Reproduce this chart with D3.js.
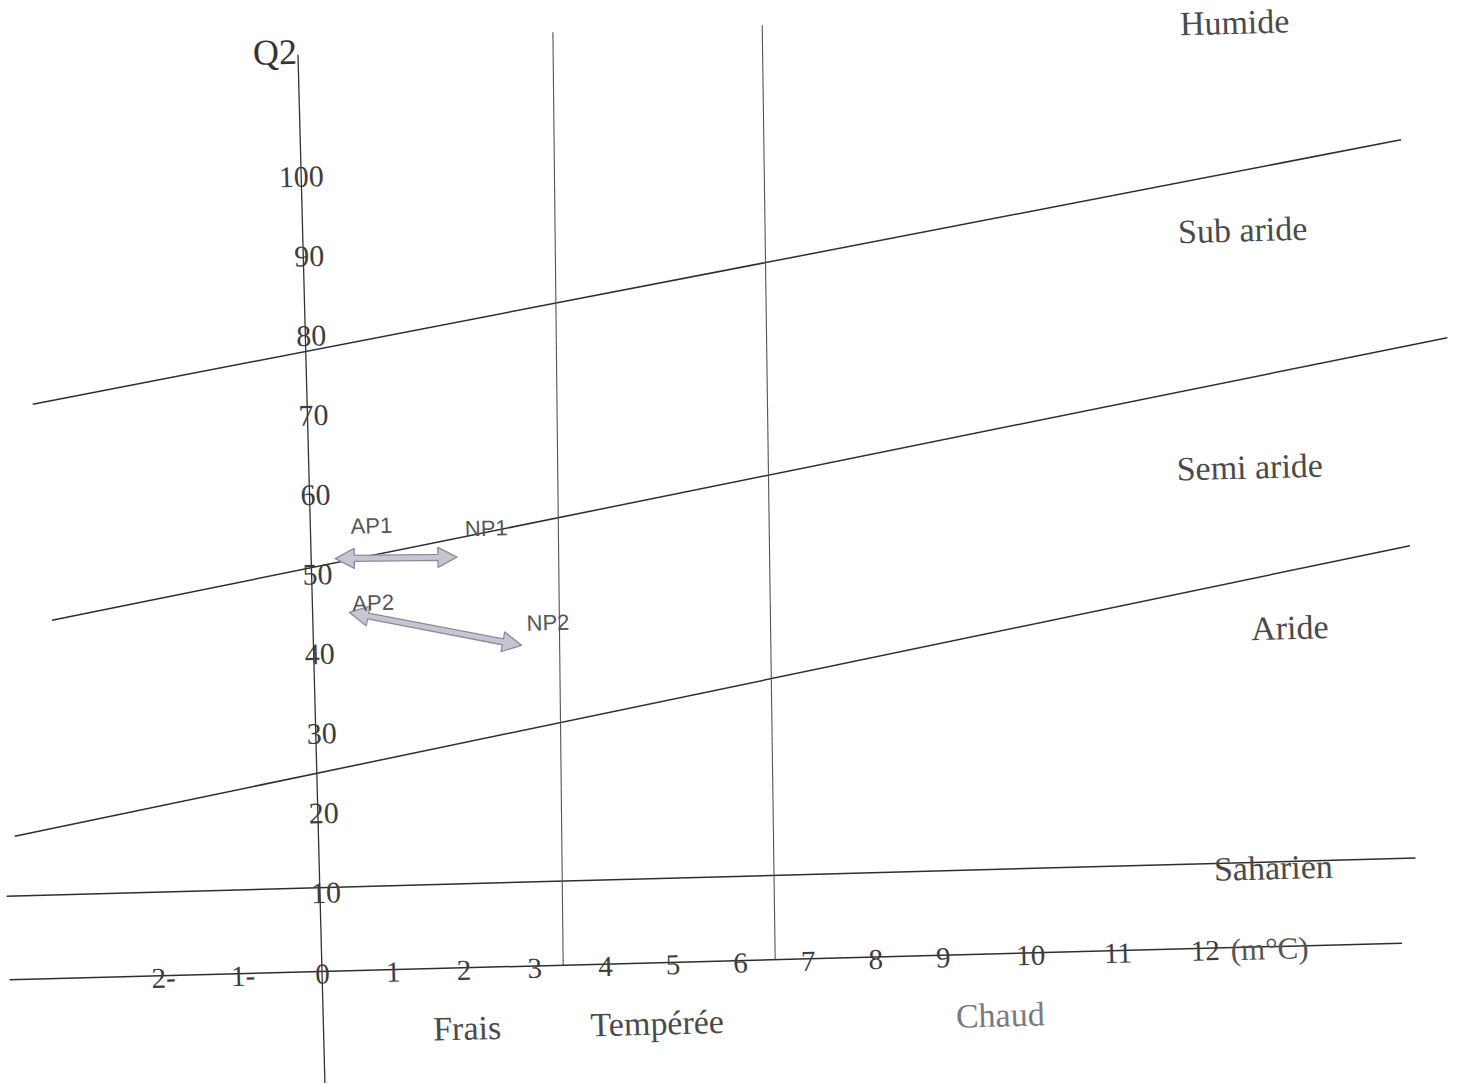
<!DOCTYPE html>
<html>
<head>
<meta charset="utf-8">
<script src="https://cdn.jsdelivr.net/npm/d3@7"></script>
<style>
  html, body { margin: 0; padding: 0; background: #fff; }
  svg { display: block; }
</style>
</head>
<body>
<script>
// Emberger climagram: Q2 against m (mean minimum of the coldest month, °C)

// ---- axis ticks ----
const xTickValues = [-2, -1, 0, 1, 2, 3, 4, 5, 6, 7, 8, 9, 10, 11, 12];
const xTickLabels = ["2-", "1-", "0", "1", "2", "3", "4", "5", "6", "7", "8", "9", "10", "11", "12"];
const xUnit = "(m°C)";
const xAxisExtent = [-3.93, 14.26];
const yTickValues = [10, 20, 30, 40, 50, 60, 70, 80, 90, 100];
const yTitle = "Q2";
const yAxisExtent = [-14.0, 115.2];

// ---- bioclimatic stage boundaries, [m, Q2] at each end ----
const boundaryNames = ["Humide/Sub aride", "Sub aride/Semi aride", "Semi aride/Aride", "Aride/Saharien"];
const boundaryStart = [[-3.45, 72.2], [-3.28, 45.0], [-3.82, 18.0], [-3.94, 10.5]];
const boundaryEnd   = [[14.49, 100.9], [14.96, 75.9], [14.47, 49.9], [14.44, 10.65]];

// ---- winter variant separators: m at the foot (Q2 = 0) and at the head ----
const separatorFootM = [3.41, 6.52];
const separatorHeadM = [3.61, 6.69];
const separatorHeadQ2 = [117.2, 117.4];

// ---- stage names ----
const stageNames = ["Humide", "Sub aride", "Semi aride", "Aride", "Saharien"];
const stageM     = [12.62, 12.65, 12.66, 13.07, 12.81];
const stageQ2    = [116.2, 90.1, 60.3, 40.0, 9.9];

// ---- winter variant names ----
const winterNames = ["Frais", "Tempérée", "Chaud"];
const winterM     = [2.03, 4.75, 9.64];
const winterQ2    = [-7.6, -7.6, -7.7];

// ---- stations: old period (AP) and new period (NP) ----
const fromNames = ["AP1", "AP2"];
const fromM     = [0.34, 0.52];
const fromQ2    = [51.8, 45.0];
const toNames   = ["NP1", "NP2"];
const toM       = [2.06, 2.94];
const toQ2      = [51.6, 40.3];

// ---- layout ----
const W = 1461, H = 1084;
const origin = [322, 971.5];
const tilt = -1.5;                       // the sheet sits slightly askew
const serif = "'Liberation Serif', 'DejaVu Serif', serif";
const sans = "'Liberation Sans', Arial, sans-serif";
const labelNudge = { AP1: [37, -32], NP1: [30, -28], AP2: [24, -9], NP2: [27, -22] };

const svg = d3.select("body").append("svg")
  .attr("width", W).attr("height", H)
  .attr("viewBox", `0 0 ${W} ${H}`);
svg.append("rect").attr("width", W).attr("height", H).attr("fill", "#fff");

const g = svg.append("g")
  .attr("transform", `translate(${origin[0]},${origin[1]}) rotate(${tilt})`);

// hand-spaced m graduations
const x = d3.scaleLinear().domain([-2, 0, 4, 9, 12]).range([-159, 0, 283, 621, 883]);
const y = d3.scaleLinear().domain([0, 100]).range([0, -796]);

// ---- boundaries ----
g.append("g").selectAll("line")
  .data(boundaryNames.map((n, i) => ({ n, a: boundaryStart[i], b: boundaryEnd[i] })))
  .join("line")
  .attr("x1", d => x(d.a[0])).attr("y1", d => y(d.a[1]))
  .attr("x2", d => x(d.b[0])).attr("y2", d => y(d.b[1]))
  .attr("stroke", "#2e2e2e").attr("stroke-width", 1.5);

// ---- separators ----
g.append("g").selectAll("line")
  .data(separatorFootM.map((m, i) => ({ m0: m, m1: separatorHeadM[i], q: separatorHeadQ2[i] })))
  .join("line")
  .attr("x1", d => x(d.m0)).attr("y1", y(0))
  .attr("x2", d => x(d.m1)).attr("y2", d => y(d.q))
  .attr("stroke", "#555").attr("stroke-width", 1.1);

// ---- axes lines ----
g.append("line")
  .attr("x1", x(xAxisExtent[0])).attr("y1", y(0))
  .attr("x2", x(xAxisExtent[1])).attr("y2", y(0))
  .attr("stroke", "#2e2e2e").attr("stroke-width", 1.5);
g.append("line")
  .attr("x1", x(0)).attr("y1", y(yAxisExtent[0]))
  .attr("x2", x(0)).attr("y2", y(yAxisExtent[1]))
  .attr("stroke", "#333").attr("stroke-width", 1.3);

// ---- x tick labels sit on the axis line ----
const xAxis = d3.axisBottom(x)
  .tickValues(xTickValues)
  .tickFormat((d, i) => xTickLabels[i])
  .tickSize(0).tickPadding(0);
g.append("g").call(xAxis)
  .call(s => s.select(".domain").remove())
  .call(s => s.selectAll(".tick text")
    .attr("y", 2).attr("dy", null)
    .attr("dominant-baseline", "central")
    .attr("font-family", serif).attr("font-size", 29)
    .attr("fill", "#3d3d3d"));

g.append("text")
  .attr("x", x(12) + 26).attr("y", y(0) + 2)
  .attr("dominant-baseline", "central")
  .attr("font-family", serif).attr("font-size", 31)
  .attr("fill", "#555")
  .text(xUnit);

// ---- y tick labels straddle the axis ----
const yAxis = d3.axisLeft(y).tickValues(yTickValues).tickSize(0).tickPadding(0);
g.append("g").call(yAxis)
  .call(s => s.select(".domain").remove())
  .call(s => s.selectAll(".tick text")
    .attr("x", d => d >= 100 ? 0 : 6).attr("dy", null)
    .attr("text-anchor", "middle")
    .attr("dominant-baseline", "central")
    .attr("font-family", serif).attr("font-size", 30)
    .attr("fill", "#3d3d3d"));

g.append("text")
  .attr("x", x(0) - 23).attr("y", y(115.6))
  .attr("text-anchor", "middle").attr("dominant-baseline", "central")
  .attr("font-family", serif).attr("font-size", 36)
  .attr("fill", "#333")
  .text(yTitle);

// ---- stage and winter names ----
g.append("g").selectAll("text")
  .data(stageNames.map((n, i) => ({ n, m: stageM[i], q: stageQ2[i] })))
  .join("text")
  .attr("x", d => x(d.m)).attr("y", d => y(d.q))
  .attr("text-anchor", "middle").attr("dominant-baseline", "central")
  .attr("font-family", serif).attr("font-size", 34)
  .attr("fill", "#4a4a4a")
  .text(d => d.n);

g.append("g").selectAll("text")
  .data(winterNames.map((n, i) => ({ n, m: winterM[i], q: winterQ2[i] })))
  .join("text")
  .attr("x", d => x(d.m)).attr("y", d => y(d.q))
  .attr("text-anchor", "middle").attr("dominant-baseline", "central")
  .attr("font-family", serif).attr("font-size", 34)
  .attr("fill", (d, i) => i === 2 ? "#7a7a7a" : "#4a4a4a")
  .text(d => d.n);

// ---- station shifts: double-headed arrows ----
function doubleArrow(L) {
  const w = 3, h = 10, a = 19;
  return [[0, 0], [a, -h], [a, -w], [L - a, -w], [L - a, -h], [L, 0],
          [L - a, h], [L - a, w], [a, w], [a, h]];
}
const shifts = fromNames.map((n, i) => ({
  from: n, to: toNames[i],
  p0: [x(fromM[i]), y(fromQ2[i])],
  p1: [x(toM[i]), y(toQ2[i])]
}));

const arrows = g.append("g").selectAll("g").data(shifts).join("g")
  .attr("transform", d => {
    const ang = Math.atan2(d.p1[1] - d.p0[1], d.p1[0] - d.p0[0]) * 180 / Math.PI;
    return `translate(${d.p0[0]},${d.p0[1]}) rotate(${ang})`;
  });
arrows.append("polygon")
  .attr("points", d => {
    const L = Math.hypot(d.p1[0] - d.p0[0], d.p1[1] - d.p0[1]);
    return doubleArrow(L).map(p => p.join(",")).join(" ");
  })
  .attr("fill", "#c6c6d2").attr("stroke", "#8c8c9e").attr("stroke-width", 1.3)
  .attr("stroke-linejoin", "round");

const stationLabels = shifts.flatMap(d => [
  { n: d.from, p: d.p0 }, { n: d.to, p: d.p1 }
]);
g.append("g").selectAll("text").data(stationLabels).join("text")
  .attr("x", d => d.p[0] + labelNudge[d.n][0])
  .attr("y", d => d.p[1] + labelNudge[d.n][1])
  .attr("text-anchor", "middle").attr("dominant-baseline", "central")
  .attr("font-family", sans).attr("font-size", 22)
  .attr("fill", "#555")
  .text(d => d.n);
</script>
</body>
</html>
